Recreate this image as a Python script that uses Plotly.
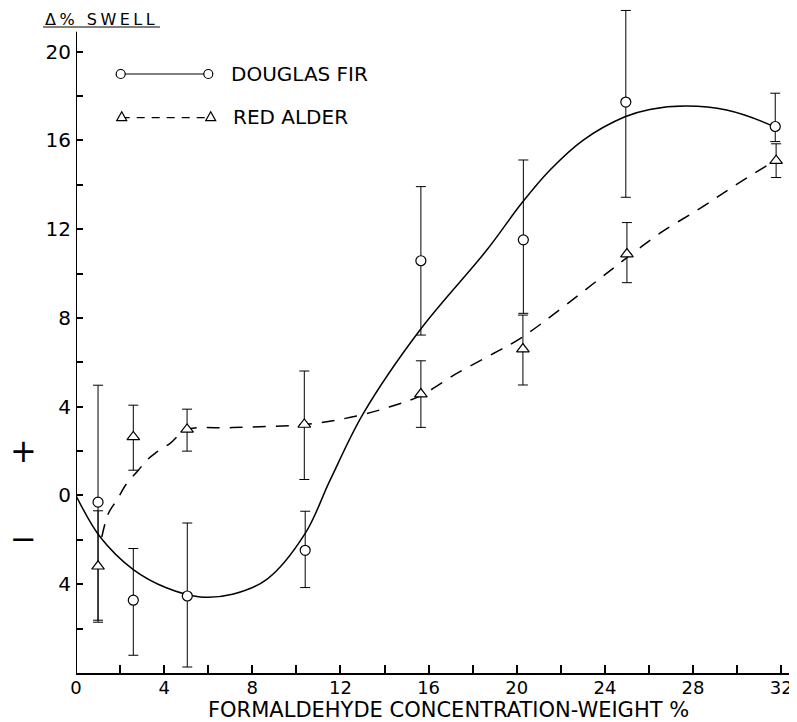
import plotly.graph_objects as go

FONT = "DejaVu Sans"

# ---- data ----
df_x = [1.0, 2.6, 5.05, 10.4, 15.65, 20.3, 24.95, 31.73]
df_y = [-0.3, -4.72, -4.53, -2.47, 10.58, 11.52, 17.73, 16.63]
df_err_plus = [5.27, 2.33, 3.29, 1.76, 3.34, 3.6, 4.13, 1.5]
df_err_minus = [5.32, 2.48, 3.2, 1.68, 3.35, 3.31, 4.29, 0.68]

ra_x = [1.0, 2.6, 5.04, 10.36, 15.65, 20.28, 25.0, 31.77]
ra_y = [-3.19, 2.64, 2.98, 3.2, 4.57, 6.6, 10.88, 15.09]
ra_err_plus = [2.5, 1.43, 0.91, 2.41, 1.5, 1.53, 1.42, 0.76]
ra_err_minus = [2.52, 1.5, 0.98, 2.48, 1.5, 1.62, 1.29, 0.76]

# fitted curves as drawn (knots)
df_curve_x = [0.0, 1.09, 2.6, 4.1, 5.63, 7.1, 8.66, 10.4, 11.53, 13.04,
              15.61, 18.64, 20.22, 21.51, 23.02, 24.91, 26.04, 27.71, 29.52, 31.34, 31.64]
df_curve_y = [0.0, -1.86, -3.34, -4.16, -4.57, -4.45, -3.78, -1.71, 0.69, 3.7,
              7.46, 11.06, 13.17, 14.67, 16.02, 17.07, 17.4, 17.55, 17.37, 16.77, 16.62]

ra_curve_x = [1.17, 1.47, 1.85, 2.3, 2.83, 3.21, 3.59, 4.27, 5.0, 7.1, 10.39,
              12.74, 14.25, 15.6, 17.28, 18.94, 20.27, 23.79, 25.0, 26.5, 28.3, 29.82, 31.73]
ra_curve_y = [-1.87, -0.81, -0.21, 0.54, 1.14, 1.59, 1.9, 2.35, 2.95, 3.06, 3.2,
              3.58, 4.0, 4.48, 5.5, 6.4, 7.15, 9.79, 10.72, 11.82, 12.93, 13.92, 15.1]

x_tickvals = list(range(0, 33, 2))
x_ticktext = [str(v) if v % 4 == 0 else "" for v in x_tickvals]
y_tickvals = list(range(-6, 21, 2))
y_ticktext = [str(abs(v)) if v % 4 == 0 else "" for v in y_tickvals]

series_names = ["DOUGLAS FIR", "RED ALDER"]
x_title = "FORMALDEHYDE CONCENTRATION-WEIGHT %"
y_title = "\u0394% SWELL"

fig = go.Figure()

fig.add_trace(go.Scatter(x=df_curve_x, y=df_curve_y, mode="lines",
                         line=dict(color="black", width=1.5, shape="spline", smoothing=1.0),
                         hoverinfo="skip", showlegend=False))
fig.add_trace(go.Scatter(x=ra_curve_x, y=ra_curve_y, mode="lines",
                         line=dict(color="black", width=1.5, dash="13px,10px",
                                   shape="spline", smoothing=1.0),
                         hoverinfo="skip", showlegend=False))

fig.add_trace(go.Scatter(x=df_x, y=df_y, mode="markers", name=series_names[0],
                         marker=dict(symbol="circle", size=10, color="white",
                                     line=dict(color="black", width=1.2)),
                         error_y=dict(type="data", symmetric=False, array=df_err_plus,
                                      arrayminus=df_err_minus, color="black",
                                      thickness=1, width=5),
                         cliponaxis=False, showlegend=False))
fig.add_trace(go.Scatter(x=ra_x, y=ra_y, mode="markers", name=series_names[1],
                         marker=dict(symbol="triangle-up", size=11, color="white",
                                     line=dict(color="black", width=1.2)),
                         error_y=dict(type="data", symmetric=False, array=ra_err_plus,
                                      arrayminus=ra_err_minus, color="black",
                                      thickness=1, width=5),
                         cliponaxis=False, showlegend=False))

# page has an 8px body margin: figure is placed at (8, 8) in the window
OFF = 8
W, H = 797 - OFF, 722 - OFF
L, R, T, B = 68, 7, 0, 49
pw, ph = W - L - R, H - T - B


def px(xpix):
    return (xpix - OFF - L) / pw


def py(ypix):
    return (H - B - (ypix - OFF)) / ph


shapes = []
# y axis line (stops at top of the drawn axis)
shapes.append(dict(type="line", xref="x", yref="y", x0=0, x1=0, y0=-8, y1=20.9,
                   line=dict(color="black", width=2)))

# legend samples
r = 4.5
for (xa, xb, yy) in [(120.7, 208.3, 74)]:
    shapes.append(dict(type="line", xref="paper", yref="paper", x0=px(xa), x1=px(xb),
                       y0=py(yy), y1=py(yy), line=dict(color="black", width=1.2)))
    for xc in (xa, xb):
        shapes.append(dict(type="circle", xref="paper", yref="paper",
                           x0=px(xc - r), x1=px(xc + r), y0=py(yy + r), y1=py(yy - r),
                           fillcolor="white", line=dict(color="black", width=1.2)))
for (xa, xb, yy) in [(121.7, 210.7, 116.7)]:
    shapes.append(dict(type="line", xref="paper", yref="paper", x0=px(xa), x1=px(xb),
                       y0=py(yy + 1), y1=py(yy + 1),
                       line=dict(color="black", width=1.2, dash="8px,7px")))
    for xc in (xa, xb):
        path = "M {:.5f},{:.5f} L {:.5f},{:.5f} L {:.5f},{:.5f} Z".format(
            px(xc), py(yy - 5), px(xc - 5), py(yy + 4), px(xc + 5), py(yy + 4))
        shapes.append(dict(type="path", xref="paper", yref="paper", path=path,
                           fillcolor="white", line=dict(color="black", width=1.2)))

# underline of the y title
shapes.append(dict(type="line", xref="paper", yref="paper", x0=px(43), x1=px(160),
                   y0=py(27), y1=py(27), line=dict(color="black", width=1)))

annotations = [
    dict(text=series_names[0], xref="paper", yref="paper", x=px(229), y=py(74),
         xanchor="left", yanchor="middle", showarrow=False,
         font=dict(family=FONT, size=20, color="black")),
    dict(text=series_names[1], xref="paper", yref="paper", x=px(231), y=py(116.7),
         xanchor="left", yanchor="middle", showarrow=False,
         font=dict(family=FONT, size=20, color="black")),
    dict(text='<span style="letter-spacing:3.5px">' + y_title + '</span>',
         xref="paper", yref="paper", x=px(43), y=1.0, yshift=0,
         xanchor="left", yanchor="top", showarrow=False,
         font=dict(family=FONT, size=16, color="black")),
    dict(text=x_title, xref="paper", yref="paper", x=px(448), y=py(709.5),
         xanchor="center", yanchor="middle", showarrow=False,
         font=dict(family=FONT, size=21, color="black")),
    dict(text="+", xref="paper", yref="paper", x=px(23), y=py(451),
         xanchor="center", yanchor="middle", showarrow=False,
         font=dict(family=FONT, size=32, color="black")),
    dict(text="\u2212", xref="paper", yref="paper", x=px(23), y=py(539),
         xanchor="center", yanchor="middle", showarrow=False,
         font=dict(family=FONT, size=32, color="black")),
]

fig.update_layout(
    width=W, height=H,
    margin=dict(l=L, r=R, t=T, b=B, pad=0),
    paper_bgcolor="white", plot_bgcolor="white",
    shapes=shapes, annotations=annotations,
    font=dict(family=FONT, size=18, color="black"),
    xaxis=dict(range=[0, 32.4], showgrid=False, zeroline=False,
               showline=True, linecolor="black", linewidth=2,
               ticks="inside", ticklen=8, tickwidth=1.5, tickcolor="black",
               tickvals=x_tickvals, ticktext=x_ticktext, ticklabelstandoff=-3,
               tickfont=dict(family=FONT, size=18, color="black")),
    yaxis=dict(range=[-8, 21.97], showgrid=False, zeroline=False,
               showline=False, ticklabelstandoff=4,
               ticks="inside", ticklen=7, tickwidth=1.5, tickcolor="black",
               tickvals=y_tickvals, ticktext=y_ticktext,
               tickfont=dict(family=FONT, size=20, color="black")),
)

fig.write_html("out.html")
